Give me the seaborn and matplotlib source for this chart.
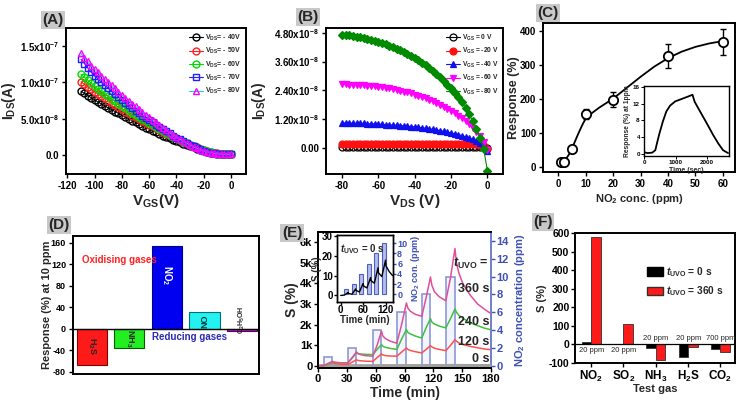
import numpy as np
import pandas as pd
import seaborn as sns
import matplotlib.pyplot as plt
from matplotlib.patches import Patch

# (A) transfer curves, I_DS in units of 1e-8 A
vgs_a = np.arange(-110, 0.1, 2.5)
ids_a_40 = [8.8, 8.5, 8.2, 7.9, 7.6, 7.3, 7.05, 6.75, 6.5, 6.25, 6.0, 5.75, 5.5, 5.25, 5.0,
            4.75, 4.5, 4.3, 4.05, 3.8, 3.6, 3.35, 3.15, 2.9, 2.7, 2.5, 2.3, 2.1, 1.9, 1.75,
            1.55, 1.4, 1.2, 1.05, 0.9, 0.75, 0.55, 0.45, 0.35, 0.27, 0.2, 0.15, 0.12, 0.1, 0.1]
ids_a_50 = [10.1, 9.75, 9.4, 9.05, 8.7, 8.4, 8.1, 7.8, 7.5, 7.2, 6.9, 6.6, 6.3, 6.0, 5.75,
            5.45, 5.2, 4.95, 4.7, 4.45, 4.2, 3.95, 3.7, 3.45, 3.2, 2.95, 2.75, 2.5, 2.3, 2.1,
            1.85, 1.65, 1.45, 1.25, 1.05, 0.85, 0.7, 0.55, 0.4, 0.3, 0.25, 0.18, 0.13, 0.1, 0.1]
ids_a_60 = [11.1, 10.7, 10.3, 9.9, 9.5, 9.15, 8.8, 8.45, 8.1, 7.75, 7.4, 7.1, 6.8, 6.45, 6.1,
            5.8, 5.5, 5.2, 4.95, 4.65, 4.4, 4.1, 3.85, 3.55, 3.3, 3.05, 2.8, 2.55, 2.3, 2.1,
            1.85, 1.6, 1.4, 1.2, 1.0, 0.8, 0.65, 0.5, 0.38, 0.28, 0.22, 0.16, 0.12, 0.1, 0.1]
ids_a_70 = [13.2, 12.6, 12.0, 11.4, 10.9, 10.5, 10.0, 9.6, 9.2, 8.8, 8.4, 8.0, 7.6, 7.2, 6.85,
            6.5, 6.1, 5.8, 5.45, 5.1, 4.8, 4.5, 4.2, 3.9, 3.6, 3.3, 3.0, 2.7, 2.4, 2.15,
            1.9, 1.65, 1.4, 1.2, 1.0, 0.8, 0.6, 0.45, 0.35, 0.25, 0.2, 0.15, 0.12, 0.1, 0.1]
ids_a_80 = [14.0, 13.4, 12.9, 12.3, 11.8, 11.4, 10.9, 10.5, 10.1, 9.6, 9.2, 8.7, 8.3, 7.9, 7.5,
            7.1, 6.7, 6.3, 5.9, 5.55, 5.2, 4.85, 4.5, 4.15, 3.8, 3.45, 3.1, 2.8, 2.5, 2.2,
            1.9, 1.65, 1.4, 1.15, 0.95, 0.75, 0.6, 0.45, 0.35, 0.25, 0.2, 0.15, 0.12, 0.1, 0.1]

# (B) output curves, I_DS in units of 1e-8 A
vds_b = np.arange(-80, 0.1, 2)
ids_b_0 = [0.02] * 40 + [0.0]
ids_b_20 = [0.18, 0.18, 0.18, 0.18, 0.18, 0.18, 0.18, 0.18, 0.17, 0.17, 0.17, 0.17, 0.17, 0.17,
            0.17, 0.17, 0.17, 0.17, 0.17, 0.17, 0.17, 0.17, 0.17, 0.17, 0.17, 0.17, 0.17, 0.17,
            0.17, 0.17, 0.17, 0.17, 0.16, 0.16, 0.16, 0.16, 0.15, 0.15, 0.12, 0.07, -0.04]
ids_b_40 = [1.04, 1.04, 1.03, 1.03, 1.03, 1.02, 1.02, 1.01, 1.01, 1.00, 0.99, 0.98, 0.97, 0.96,
            0.95, 0.94, 0.93, 0.92, 0.91, 0.89, 0.88, 0.86, 0.84, 0.82, 0.80, 0.77, 0.75, 0.72,
            0.69, 0.66, 0.62, 0.59, 0.55, 0.51, 0.46, 0.41, 0.36, 0.30, 0.22, 0.12, -0.12]
ids_b_60 = [2.65, 2.65, 2.64, 2.64, 2.63, 2.62, 2.61, 2.60, 2.59, 2.57, 2.55, 2.53, 2.51, 2.48,
            2.45, 2.42, 2.39, 2.35, 2.31, 2.27, 2.22, 2.17, 2.12, 2.06, 2.00, 1.94, 1.87, 1.80,
            1.72, 1.64, 1.55, 1.45, 1.35, 1.24, 1.12, 0.98, 0.84, 0.68, 0.50, 0.25, -0.10]
ids_b_80 = [4.72, 4.71, 4.69, 4.67, 4.64, 4.61, 4.58, 4.55, 4.51, 4.47, 4.43, 4.38, 4.33, 4.27,
            4.21, 4.14, 4.07, 3.99, 3.91, 3.83, 3.74, 3.65, 3.55, 3.44, 3.33, 3.21, 3.08, 2.94,
            2.80, 2.64, 2.48, 2.30, 2.11, 1.90, 1.66, 1.40, 1.10, 0.78, 0.42, -0.05, -0.95]

# (C) response vs NO2 concentration
conc_c = [1, 2, 5, 10, 20, 40, 60]
resp_c = [15, 15, 52, 155, 198, 327, 367]
err_c = [5, 5, 8, 15, 22, 35, 38]
fit_x = [1, 2, 3, 4, 5, 6, 7, 8, 9, 10, 12.5, 15, 17.5, 20, 25, 30, 35, 40, 45, 50, 55, 60]
fit_y = [14, 17, 26, 38, 54, 73, 92, 110, 127, 142, 160, 175, 188, 201, 233, 265, 295, 320,
         339, 353, 363, 370]
time_ci = [0, 100, 250, 350, 400, 480, 590, 700, 820, 980, 1190, 1400, 1530, 1600, 1770,
           1980, 2190, 2350, 2500, 2660]
resp_ci = [0.3, 0.1, 0.2, 0.8, 2.4, 4.8, 7.7, 10.1, 11.5, 12.5, 13.1, 13.7, 14.1, 12.4, 10.1,
           7.3, 4.4, 2.4, 0.8, 0.1]

# (D) selectivity at 10 ppm
gases_d = ['H2S', 'NH3', 'NO2', 'NO', 'C2H5OH']
resp_d = [-68, -35, 154, 31, -4]
colors_d = ['#ff1a1a', '#22ee22', '#0000f0', '#22f2f2', '#b020b0']
edges_d = ['#800000', '#006000', '#000080', '#007070', '#600060']

# (E) dynamic response, S in units of 1000 %
pulse_start = [6, 31, 57, 82, 108, 133]
pulse_end = [15, 40, 66, 92, 117, 142.5]
pulse_conc = [1, 2, 4, 6, 8, 10]
time_e = [0, 6, 10.5, 15, 16.5, 19, 24, 31, 35.5, 40, 41.5, 44, 49, 57, 61.5, 66, 67.5, 70, 75,
          82, 87, 92, 93.5, 96, 101, 108, 112.5, 117, 118.5, 121, 126, 133, 138, 142.5, 144,
          146.5, 151, 158, 166, 173, 179]
s_360 = [0.0, 0.02, 0.12, 0.22, 0.19, 0.17, 0.15, 0.14, 0.4, 0.68, 0.6, 0.55, 0.5, 0.47,
         1.0, 1.68, 1.45, 1.33, 1.2, 1.1, 2.0, 3.05, 2.8, 2.65, 2.5, 2.4, 3.3, 4.3, 3.9, 3.6,
         3.35, 3.15, 4.3, 5.68, 5.0, 4.5, 3.95, 3.45, 3.0, 2.75, 2.56]
s_240 = [0.0, 0.02, 0.1, 0.18, 0.17, 0.16, 0.15, 0.15, 0.38, 0.63, 0.6, 0.58, 0.56, 0.55,
         0.8, 1.03, 0.95, 0.9, 0.85, 0.8, 1.3, 1.76, 1.62, 1.55, 1.45, 1.35, 1.85, 2.29, 2.12,
         2.03, 1.93, 1.84, 2.3, 2.76, 2.6, 2.45, 2.3, 2.1, 1.95, 1.83, 1.76]
s_120 = [0.0, 0.01, 0.08, 0.15, 0.12, 0.1, 0.08, 0.07, 0.18, 0.3, 0.27, 0.25, 0.23, 0.22,
         0.4, 0.58, 0.53, 0.5, 0.48, 0.47, 0.67, 0.87, 0.8, 0.75, 0.69, 0.63, 0.8, 0.98, 0.92,
         0.86, 0.8, 0.74, 1.0, 1.27, 1.2, 1.12, 1.03, 0.95, 0.88, 0.82, 0.79]
s_0 = [0.0, 0.0, 0.001, 0.0015, 0.0012, 0.001, 0.0008, 0.0006, 0.002, 0.0035, 0.003, 0.0025,
       0.002, 0.0018, 0.004, 0.006, 0.005, 0.0045, 0.004, 0.0038, 0.007, 0.0095, 0.0085,
       0.0075, 0.0065, 0.006, 0.011, 0.0145, 0.013, 0.012, 0.0105, 0.0095, 0.014, 0.0178,
       0.016, 0.015, 0.0135, 0.012, 0.011, 0.0105, 0.01]
# inset of (E): t_UVO = 0 s, S in %
ins_start = [10, 30, 50, 70, 90, 110]
ins_end = [20, 40, 60, 80, 100, 120]
ins_conc = [1, 2, 4, 6, 8, 10]
time_ei = [0, 10, 20, 21, 30, 40, 41, 50, 60, 61, 70, 80, 81, 90, 100, 101, 110, 120, 121, 130, 139]
s_ei = [0, 0.2, 1.5, 1.0, 0.6, 3.3, 2.5, 1.8, 6.0, 4.8, 3.8, 9.0, 7.5, 6.2, 14.0, 11.5, 9.5,
        17.8, 15.0, 12.0, 10.0]

# (F) test gases
gases_f = ['NO$_2$', 'SO$_2$', 'NH$_3$', 'H$_2$S', 'CO$_2$']
s_f_0 = [11, 2, -18, -68, -27]
s_f_360 = [579, 112, -84, -14, -41]
ppm_f = ['20 ppm', '20 ppm', '20 ppm', '20 ppm', '700 ppm']

sns.set_style('ticks')
plt.rcParams['font.family'] = ['Liberation Sans', 'DejaVu Sans']
plt.rcParams['font.weight'] = 'bold'
plt.rcParams['axes.labelweight'] = 'bold'
plt.rcParams['mathtext.fontset'] = 'custom'
plt.rcParams['mathtext.rm'] = 'Liberation Sans:bold'
plt.rcParams['mathtext.bf'] = 'Liberation Sans:bold'
plt.rcParams['mathtext.it'] = 'Liberation Sans:italic:bold'
plt.rcParams['mathtext.default'] = 'bf'
plt.rcParams['axes.unicode_minus'] = False
plt.rcParams['axes.linewidth'] = 1.4
plt.rcParams['axes.edgecolor'] = 'black'
plt.rcParams['xtick.major.size'] = 3
plt.rcParams['ytick.major.size'] = 3
plt.rcParams['xtick.major.width'] = 1.0
plt.rcParams['ytick.major.width'] = 1.0
plt.rcParams['xtick.color'] = 'black'
plt.rcParams['ytick.color'] = 'black'

W, H = 748, 409
fig = plt.figure(figsize=(7.48, 4.09), dpi=100)


def box(l, t, r, b):
    return [l / W, 1 - b / H, (r - l) / W, (b - t) / H]


def tag(x, y, s):
    fig.text(x / W, 1 - y / H, s, ha='center', va='center', fontsize=11, fontweight='bold',
             bbox=dict(facecolor='#c8c8c8', edgecolor='none', pad=1.2))


# ---------- (A)
ax = fig.add_axes(box(66, 28, 246, 174))
series_a = [(ids_a_40, '- 40V', 'black', 'black', 'o'),
            (ids_a_50, '- 50V', '#ff2020', '#ff2020', 'o'),
            (ids_a_60, '- 60V', '#00dd00', '#00dd00', 'o'),
            (ids_a_70, '- 70V', '#2020ff', '#2020ff', 's'),
            (ids_a_80, '- 80V', '#00dddd', '#ff00ff', '^')]
for vals, lab, lc, mc, mk in series_a:
    sns.lineplot(x=vgs_a, y=vals, ax=ax, color=lc, marker=mk, markersize=5,
                 markerfacecolor='none', markeredgecolor=mc, markeredgewidth=1.0,
                 linewidth=0.8, label='V$_{DS}$= ' + lab)
ax.set_xlim(-121, 11)
ax.set_ylim(-2.6, 17.5)
ax.set_xticks(range(-120, 1, 20))
ax.set_yticks([0, 5, 10, 15])
ax.set_yticklabels(['0.0', '5.0x10$^{-8}$', '1.0x10$^{-7}$', '1.5x10$^{-7}$'])
ax.tick_params(labelsize=7, pad=2)
ax.set_xlabel('V$_{GS}$(V)', fontsize=11, labelpad=1)
ax.set_ylabel('I$_{DS}$(A)', fontsize=10)
ax.yaxis.set_label_coords(-0.265, 0.5)
ax.legend(loc='upper right', fontsize=5, frameon=False, handlelength=2.0,
          labelspacing=0.45, borderaxespad=0.3, handletextpad=0.3)
tag(53, 20, '(A)')

# ---------- (B)
ax = fig.add_axes(box(326, 28, 503, 174))
series_b = [(ids_b_0, '0 V', 'black', 'o', 'none'),
            (ids_b_20, '-20 V', '#ff1010', 'o', '#ff1010'),
            (ids_b_40, '-40 V', '#1010ee', '^', '#1010ee'),
            (ids_b_60, '-60 V', '#ff00ff', 'v', '#ff00ff'),
            (ids_b_80, '-80 V', '#008a00', 'D', '#008a00')]
for vals, lab, col, mk, fc in series_b:
    sns.lineplot(x=vds_b, y=vals, ax=ax, color=col, marker=mk, markersize=5 if mk != 'D' else 4.3,
                 markerfacecolor=fc, markeredgecolor=col, markeredgewidth=0.9,
                 linewidth=0.8, label='V$_{GS}$ = ' + lab)
ax.set_xlim(-88.8, 8.6)
ax.set_ylim(-1.09, 5.0)
ax.set_xticks(range(-80, 1, 20))
ax.set_yticks([0, 1.2, 2.4, 3.6, 4.8])
ax.set_yticklabels(['0.00', '1.20x10$^{-8}$', '2.40x10$^{-8}$', '3.60x10$^{-8}$', '4.80x10$^{-8}$'])
ax.tick_params(labelsize=7, pad=2)
ax.set_xlabel('V$_{DS}$ (V)', fontsize=11, labelpad=1)
ax.set_ylabel('I$_{DS}$(A)', fontsize=10)
ax.yaxis.set_label_coords(-0.33, 0.5)
ax.legend(loc='upper right', fontsize=4.8, frameon=False, handlelength=2.0,
          labelspacing=0.5, borderaxespad=0.3, handletextpad=0.3, bbox_to_anchor=(1.0, 1.0))
tag(308, 17, '(B)')

# ---------- (C)
ax = fig.add_axes(box(543, 23, 735, 172))
sns.lineplot(x=fit_x, y=fit_y, ax=ax, color='black', linewidth=1.3)
ax.errorbar(conc_c, resp_c, yerr=err_c, fmt='none', ecolor='black', elinewidth=1.0,
            capsize=2.5, capthick=1.0, zorder=3)
sns.scatterplot(x=conc_c, y=resp_c, ax=ax, s=45, facecolor='white', edgecolor='black',
                linewidth=1.3, zorder=4)
ax.set_xlim(-5.5, 64.4)
ax.set_ylim(-14, 423)
ax.set_xticks(range(0, 61, 10))
ax.set_yticks(range(0, 401, 100))
ax.tick_params(labelsize=7, pad=2)
ax.set_xlabel('NO$_2$ conc. (ppm)', fontsize=8, labelpad=2)
ax.set_ylabel('Response (%)', fontsize=9)
ax.yaxis.set_label_coords(-0.12, 0.5)
tag(548, 13, '(C)')

axi = fig.add_axes(box(644, 86, 729, 156))
sns.lineplot(x=time_ci, y=resp_ci, ax=axi, color='black', linewidth=1.3)
axi.set_xlim(-10, 2690)
axi.set_ylim(-0.6, 16.2)
axi.set_xticks([0, 1000, 2000])
axi.set_yticks([0, 4, 8, 12, 16])
axi.tick_params(labelsize=4.5, length=2, width=0.7, pad=1)
for s in axi.spines.values():
    s.set_linewidth(1.0)
axi.set_xlabel('Time (sec)', fontsize=5, labelpad=1)
axi.set_ylabel('Response (%) at 1ppm', fontsize=4.8, labelpad=1)

# ---------- (D)
ax = fig.add_axes(box(73, 236, 259, 374))
sns.barplot(x=gases_d, y=resp_d, hue=gases_d, palette=colors_d, legend=False, width=0.8,
            saturation=1, ax=ax)
for p, ec in zip(ax.patches, edges_d):
    p.set_edgecolor(ec)
    p.set_linewidth(0.8)
ax.axhline(0, color='black', linewidth=1.0)
ax.set_xlim(-0.5, 4.45)
ax.set_ylim(-84, 173)
ax.set_yticks(range(-80, 161, 40))
ax.set_xticks([])
ax.set_xlabel('')
ax.tick_params(labelsize=6.5, pad=2)
ax.set_ylabel('Response (%) at 10 ppm', fontsize=8)
ax.yaxis.set_label_coords(-0.113, 0.5)
ax.text(0, -32, 'H$_2$S', rotation=-90, ha='center', va='center', fontsize=6.5)
ax.text(1, -17, 'NH$_3$', rotation=-90, ha='center', va='center', fontsize=6.5)
ax.text(2, 100, 'NO$_2$', rotation=-90, ha='center', va='center', fontsize=7, color='white')
ax.text(3, 14, 'NO', rotation=90, ha='center', va='center', fontsize=6.5, color='#004040')
ax.text(4, 16, 'C$_2$H$_5$OH', rotation=90, ha='center', va='center', fontsize=5)
ax.text(-0.27, 129, 'Oxidising gases', color='#ff2020', fontsize=7, va='center')
ax.text(1.6, -16, 'Reducing gases', color='#2a2ab8', fontsize=7, va='center')
tag(59, 225, '(D)')

# ---------- (E)
blue_e = '#3f51b5'
ax = fig.add_axes(box(318, 232, 491, 368))
ax2 = ax.twinx()
ax2.bar(pulse_start, pulse_conc, width=np.subtract(pulse_end, pulse_start), align='edge',
        facecolor=(0.85, 0.87, 0.97, 0.3), edgecolor='#8c98d8', linewidth=1.2)
ax2.set_ylim(-0.25, 15.0)
ax2.set_yticks(range(0, 15, 2))
ax2.tick_params(axis='y', colors=blue_e, labelsize=8, pad=1)
ax2.spines['right'].set_color('#6f7fd0')
ax2.set_ylabel('NO$_2$ concentration (ppm)', color=blue_e, fontsize=8, labelpad=3)
ax.set_zorder(ax2.get_zorder() + 1)
ax.patch.set_visible(False)
ax.spines['right'].set_visible(False)
sns.lineplot(x=time_e, y=s_0, ax=ax, color='#a0a0a0', linewidth=2.5)
sns.lineplot(x=time_e, y=s_120, ax=ax, color='#ff5050', linewidth=1.1)
sns.lineplot(x=time_e, y=s_240, ax=ax, color='#40c040', linewidth=1.1)
sns.lineplot(x=time_e, y=s_360, ax=ax, color='#e0509a', linewidth=1.1)
ax.set_xlim(0, 180)
ax.set_ylim(-0.1, 6.48)
ax.set_xticks(range(0, 181, 30))
ax.set_yticks(range(0, 7))
ax.set_yticklabels(['0', '1k', '2k', '3k', '4k', '5k', '6k'])
ax.tick_params(labelsize=8, pad=1)
ax.set_xlabel('Time (min)', fontsize=10, labelpad=2)
ax.set_ylabel('S (%)', fontsize=10, labelpad=1)
for txt, y in [('$\\mathit{t}_{UVO}$ =', 4.98), ('360 s', 3.72), ('240 s', 2.14),
               ('120 s', 1.15), ('0 s', 0.32)]:
    ax.text(178, y, txt, ha='right', va='center', fontsize=9)
tag(292, 233, '(E)')

axi2 = fig.add_axes(box(337, 235, 393, 302))
axi = axi2.twinx()
axi2.set_zorder(5)
axi.set_zorder(6)
axi.patch.set_visible(False)
axi2.yaxis.tick_right()
axi2.bar(ins_start, ins_conc, width=np.subtract(ins_end, ins_start), align='edge',
         facecolor='#b3bde8', edgecolor='#5060c0', linewidth=0.8)
axi2.set_ylim(-1.5, 11.6)
axi2.set_yticks(range(0, 11, 2))
axi2.tick_params(axis='y', colors=blue_e, labelsize=6.5, length=2, pad=1)
axi2.yaxis.set_label_position('right')
axi2.set_ylabel('NO$_2$ con. (ppm)', color=blue_e, fontsize=6.5, labelpad=1)
sns.lineplot(x=time_ei, y=s_ei, ax=axi, color='black', linewidth=1.0)
axi.yaxis.tick_left()
axi.yaxis.set_label_position('left')
axi.set_xlim(-10, 140)
axi2.set_xlim(-10, 140)
axi.set_ylim(-3.3, 30.5)
axi.set_yticks([0, 10, 20, 30])
axi.set_xticks([0, 60, 120])
axi2.set_xticks([0, 60, 120])
axi.tick_params(labelsize=7, length=2, pad=1)
axi2.tick_params(axis='x', labelsize=7, length=2, pad=0)
axi.set_ylabel('S (%)', fontsize=7, labelpad=0)
axi2.set_xlabel('Time (min)', fontsize=7, labelpad=0)
for s in list(axi.spines.values()) + list(axi2.spines.values()):
    s.set_linewidth(1.0)
axi.text(-2, 27, '$\\mathit{t}_{UVO}$ = 0 s', fontsize=7, va='top')

# ---------- (F)
ax = fig.add_axes(box(575, 233, 735, 363))
df_f = pd.DataFrame({'gas': gases_f * 2, 'S': s_f_0 + s_f_360,
                     'uvo': ['0 s'] * 5 + ['360 s'] * 5})
sns.barplot(data=df_f, x='gas', y='S', hue='uvo', palette=['black', '#ff1a1a'], width=0.58,
            saturation=1, edgecolor='#303030', linewidth=0.6, legend=False, ax=ax)
ax.axhline(0, color='black', linewidth=0.9)
ax.set_xlim(-0.5, 4.45)
ax.set_ylim(-100, 602)
ax.set_yticks(range(-100, 601, 100))
ax.tick_params(labelsize=7.5, pad=1)
ax.tick_params(axis='x', labelsize=8.5)
ax.set_xlabel('Test gas', fontsize=8, labelpad=0)
ax.set_ylabel('S (%)', fontsize=8, labelpad=1)
for i, lab in enumerate(ppm_f):
    if i < 2:
        ax.text(i, -30, lab, ha='center', va='center', fontsize=5.5, fontweight='normal',
                bbox=dict(facecolor='white', edgecolor='none', pad=0.3))
    else:
        ax.text(i, 33, lab, ha='center', va='center', fontsize=5.5, fontweight='normal')
handles = [Patch(facecolor='black', edgecolor='black'),
           Patch(facecolor='#ff1a1a', edgecolor='#303030')]
ax.legend(handles, ['$\\mathit{t}_{UVO}$ = 0 s', '$\\mathit{t}_{UVO}$ = 360 s'],
          loc='upper left', bbox_to_anchor=(0.41, 0.8), frameon=False, fontsize=7.3,
          handlelength=1.6, handleheight=0.9, labelspacing=0.55, handletextpad=0.35,
          borderaxespad=0.2)
tag(543, 222, '(F)')

fig.savefig('out.png', dpi=100)
